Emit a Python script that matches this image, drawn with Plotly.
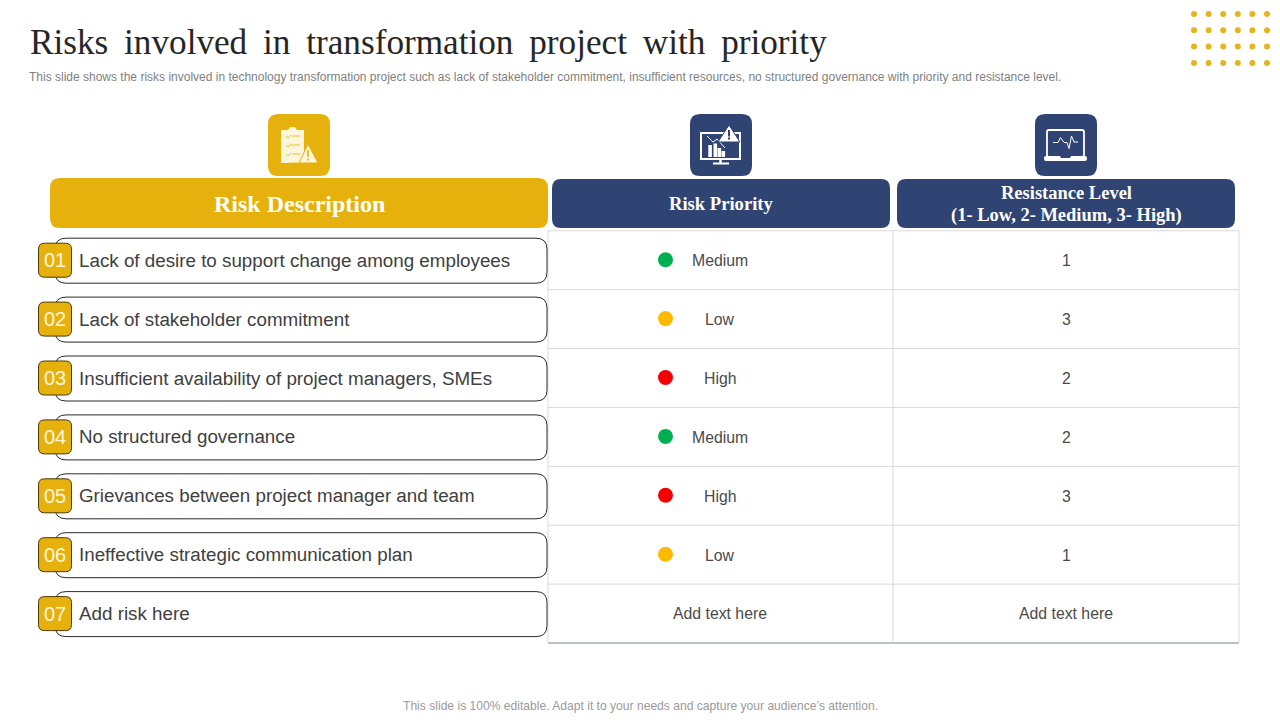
import plotly.graph_objects as go

# table content
risks = [
    "Lack of desire to support change among employees",
    "Lack of stakeholder commitment",
    "Insufficient availability of project managers, SMEs",
    "No structured governance",
    "Grievances between project manager and team",
    "Ineffective strategic communication plan",
    "Add risk here",
]
priorities = ["Medium", "Low", "High", "Medium", "High", "Low", "Add text here"]
levels = ["1", "3", "2", "2", "3", "1", "Add text here"]
priority_colors = {"Medium": "#00B050", "Low": "#FFBA00", "High": "#F40000"}

title = "Risks\u00a0\u2009involved\u00a0\u2009in\u00a0\u2009transformation\u00a0\u2009project\u00a0\u2009with\u00a0\u2009priority"
subtitle = ("This slide shows the risks involved in technology transformation project such as lack of "
            "stakeholder commitment, insufficient resources, no structured governance with priority "
            "and resistance level.")
footer = "This slide is 100% editable. Adapt it to your needs and capture your audience\u2019s attention."

GOLD = "#E6B10C"
NAVY = "#304473"
TEXT = "#404040"
GRID = "#D9D9D9"
SANS = "Liberation Sans, Arial, sans-serif"
SERIF = "Liberation Serif, Times New Roman, serif"

# layout of the slide, in pixels
ROW0 = 260.2
ROW_H = 58.9
TABLE_L, TABLE_M, TABLE_R = 548, 893, 1239
TABLE_T = ROW0 - ROW_H / 2
PRIORITY_X = 720
DOT_X = 665.5
LEVEL_X = 1066


def row_y(i):
    return ROW0 + i * ROW_H


def round_rect(x0, y0, x1, y1, r):
    return (f"M{x0 + r},{y0} L{x1 - r},{y0} Q{x1},{y0} {x1},{y0 + r} L{x1},{y1 - r} Q{x1},{y1} {x1 - r},{y1} "
            f"L{x0 + r},{y1} Q{x0},{y1} {x0},{y1 - r} L{x0},{y0 + r} Q{x0},{y0} {x0 + r},{y0} Z")


shapes = []


def add_path(path, fill=None, line=None, width=1):
    shapes.append(dict(type="path", path=path, fillcolor=fill or "rgba(0,0,0,0)",
                       line=dict(color=line or "rgba(0,0,0,0)", width=width if line else 0), layer="below"))


def add_line(x0, y0, x1, y1, color, width=1):
    shapes.append(dict(type="line", x0=x0, y0=y0, x1=x1, y1=y1, line=dict(color=color, width=width), layer="below"))


def add_text(x, y, text, size, color, font=SANS, anchor="center"):
    annotations.append(dict(x=x, y=y, text=text, showarrow=False, xanchor=anchor, yanchor="middle",
                            font=dict(family=font, size=size, color=color), align="center"))


annotations = []

# headers
add_path(round_rect(50, 178, 548, 228, 10), fill=GOLD)
add_path(round_rect(552, 179, 890, 228, 9), fill=NAVY)
add_path(round_rect(897, 179, 1235, 228, 9), fill=NAVY)
add_text(299, 204, "<b>Risk Description</b>", 24, "#FFFFFF", SERIF)
add_text(721, 203.5, "<b>Risk Priority</b>", 18.6, "#FFFFFF", SERIF)
add_text(1066, 193, "<b>Resistance Level</b>", 18.5, "#FFFFFF", SERIF)
add_text(1066, 215, "<b>(1- Low, 2- Medium, 3- High)</b>", 18.5, "#FFFFFF", SERIF)

# icon tiles
add_path(round_rect(268, 114, 330, 176, 10), fill=GOLD)
add_path(round_rect(690, 114, 752, 176, 10), fill=NAVY)
add_path(round_rect(1035, 114, 1097, 176, 10), fill=NAVY)

# clipboard icon
add_path("M281,130 L288,130 L290,127 L295,127 L297,130 L304,130 L304,163 L281,163 Z", fill="#FFF6DC")
for k in range(4):
    ym = 136 + k * 9
    add_line(286, ym, 288, ym + 2, GOLD, 0.8)
    add_line(288, ym + 2, 291, ym - 1, GOLD, 0.8)
    add_line(292, ym, 300, ym, GOLD, 0.8)
add_path("M308,144 L318,163 L299,163 Z", fill="#FFF6DC", line=GOLD, width=1)
add_line(308, 150, 308, 157, GOLD, 1.6)
add_line(308, 158.5, 308, 160.5, GOLD, 1.6)

# monitor icon
add_path("M701,133 L740,133 L740,159 L701,159 Z", line="#FFFFFF", width=2)
add_line(720.5, 159, 720.5, 163, "#FFFFFF", 2.5)
add_line(713, 163.5, 729, 163.5, "#FFFFFF", 2)
for bx, by in [(708.3, 145), (713.5, 143.5), (717.5, 148), (721.5, 151)]:
    add_path(f"M{bx},{by} L{bx + 3.6},{by} L{bx + 3.6},157 L{bx},157 Z", fill="#FFFFFF")
add_path("M707,136 L713,142 L717,139 L725,148", line="#FFFFFF", width=1)
add_path("M729,125 L740,142 L718,142 Z", fill="#FFFFFF", line=NAVY, width=1)
add_line(729, 130, 729, 136.5, NAVY, 2)
add_line(729, 137.5, 729, 139.5, NAVY, 2)

# laptop icon
add_path(round_rect(1047, 130, 1084, 157, 2), line="#FFFFFF", width=1.8)
add_path(round_rect(1044, 156, 1087, 161, 2), fill="#FFFFFF")
add_path("M1060,156 L1071,156 L1070,158 L1061,158 Z", fill=NAVY)
add_path("M1053,142.5 L1058,142.5 L1060.5,137.5 L1064,142.5 L1067,142.5 L1069,148.5 L1071.5,136 L1074,142 L1078,142",
         line="#FFFFFF", width=1)

# table grid
for i in range(7):
    add_line(TABLE_L, TABLE_T + i * ROW_H, TABLE_R, TABLE_T + i * ROW_H, GRID, 1)
add_line(TABLE_L, TABLE_T + 7 * ROW_H, TABLE_R, TABLE_T + 7 * ROW_H, "#A6ABB8", 1.5)
add_line(TABLE_L, TABLE_T, TABLE_L, TABLE_T + 7 * ROW_H, GRID, 1)
add_line(TABLE_M, TABLE_T, TABLE_M, TABLE_T + 7 * ROW_H, GRID, 1)
add_line(TABLE_R, TABLE_T, TABLE_R, TABLE_T + 7 * ROW_H, GRID, 1)

# risk rows
for i, risk in enumerate(risks):
    y = row_y(i)
    add_path(round_rect(55, y - 22, 547, y + 23, 11), fill="#FFFFFF", line="#2B2B2B", width=1)
    add_path(round_rect(38.5, y - 17, 71.5, y + 17, 6), fill=GOLD, line="#4A3A08", width=1)
    add_text(55, y, f"{i + 1:02d}", 20, "#FFF6DC")
    add_text(77, y, risk, 18.8, TEXT, anchor="left")

# priority and level columns
for i, (p, lv) in enumerate(zip(priorities, levels)):
    add_text(PRIORITY_X, row_y(i) + 0.3, p, 15.8, "#4A4A4A")
    add_text(LEVEL_X, row_y(i) + 0.3, lv, 15.8, "#4A4A4A")

rated = [i for i, p in enumerate(priorities) if p in priority_colors]

fig = go.Figure()
fig.add_trace(go.Scatter(
    x=[DOT_X] * len(rated),
    y=[row_y(i) - 0.5 for i in rated],
    mode="markers",
    marker=dict(size=15, color=[priority_colors[priorities[i]] for i in rated]),
    hovertext=[risks[i] for i in rated],
    showlegend=False,
))

# dot grid in the corner
dots_x = [1194 + c * 14.6 for c in range(6) for r in range(4)]
dots_y = [14 + r * 16.3 for c in range(6) for r in range(4)]
fig.add_trace(go.Scatter(x=dots_x, y=dots_y, mode="markers", hoverinfo="skip",
                         marker=dict(size=6, color="#E5B41E"), showlegend=False))

add_text(28, 42, title, 35.2, "#262626", SERIF, anchor="left")
add_text(27, 77, subtitle, 12, "#7F7F7F", anchor="left")
add_text(640, 706, footer, 12.1, "#9A9A9A")

fig.update_layout(
    width=1280, height=720,
    margin=dict(l=0, r=0, t=0, b=0),
    paper_bgcolor="#FFFFFF", plot_bgcolor="#FFFFFF",
    xaxis=dict(range=[0, 1280], visible=False, fixedrange=True),
    yaxis=dict(range=[720, 0], visible=False, fixedrange=True),
    shapes=shapes, annotations=annotations,
)

fig.write_html("out.html", config=dict(displayModeBar=False), post_script="document.body.style.margin='0';")
